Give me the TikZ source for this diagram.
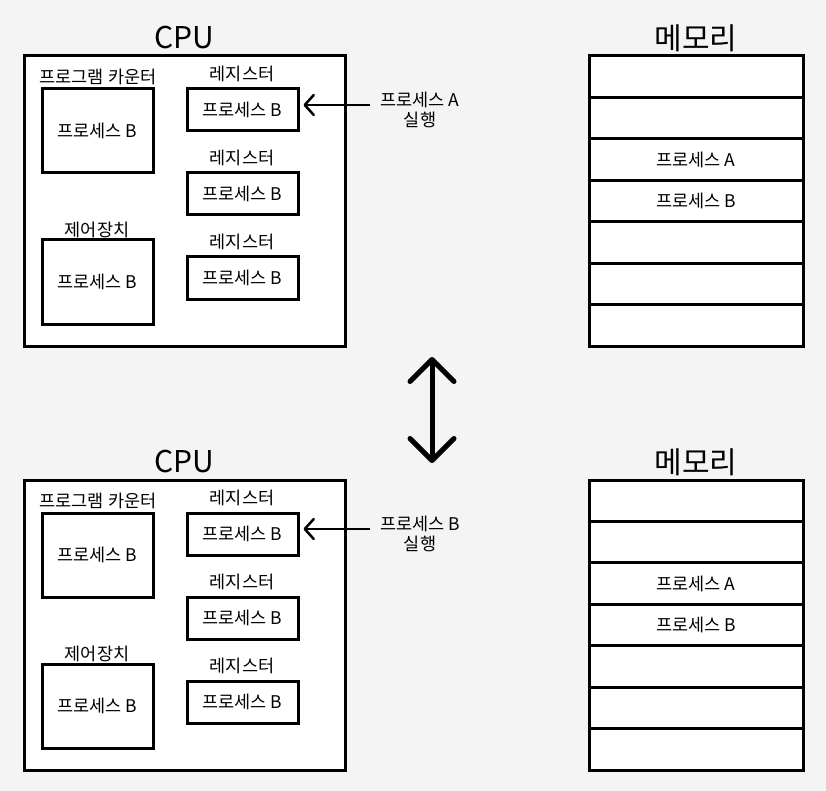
\documentclass[tikz,border=0pt]{standalone}
\usepackage{fontspec}
\setmainfont{Noto Sans CJK KR}
\usetikzlibrary{arrows.meta}
\begin{document}
\begin{tikzpicture}[x=1pt,y=-1pt,
  box/.style={draw=black,line width=3pt,fill=white,rectangle,inner sep=0pt},
  txt/.style={font=\fontsize{17.5}{20}\selectfont,inner sep=0pt},
  title/.style={font=\fontsize{30}{34}\selectfont,inner sep=0pt},
  ptr/.style={line width=2.5pt,-{Straight Barb[length=9pt,width=20pt,line cap=round,line join=round]}},
  swap/.style={line width=5pt,line cap=round,{Straight Barb[length=22pt,width=44pt,line cap=round,line join=round]}-{Straight Barb[length=22pt,width=44pt,line cap=round,line join=round]}}]
\fill[fill={rgb,255:red,244;green,244;blue,244}] (0,0) rectangle (826,791);
\useasboundingbox (0,0) rectangle (826,791);
\foreach \oy/\s/\p in {0/t/A,424/b/B}{
  % CPU
  \node[title] (cpu\s) at (184,38+\oy) {CPU};
  \node[box,minimum width=321pt,minimum height=290pt] (cpubox\s) at (184.5,201+\oy) {};
  \node[txt] (pcl\s) at (98,77+\oy) {프로그램 카운터};
  \node[box,minimum width=111pt,minimum height=84pt,txt] (pc\s) at (97.5,131+\oy) {프로세스 B};
  \node[txt] (cul\s) at (97,230+\oy) {제어장치};
  \node[box,minimum width=111pt,minimum height=84pt,txt] (cu\s) at (97.5,282+\oy) {프로세스 B};
  \node[txt] (r1l\s) at (242,74+\oy) {레지스터};
  \node[box,minimum width=111pt,minimum height=42pt,txt] (r1\s) at (242.5,110+\oy) {프로세스 B};
  \node[txt] (r2l\s) at (242,158+\oy) {레지스터};
  \node[box,minimum width=111pt,minimum height=42pt,txt] (r2\s) at (242.5,194+\oy) {프로세스 B};
  \node[txt] (r3l\s) at (242,242+\oy) {레지스터};
  \node[box,minimum width=111pt,minimum height=42pt,txt] (r3\s) at (242.5,278+\oy) {프로세스 B};
  % pointer
  \node[txt,align=center] (run\s) at (420,110+\oy) {프로세스 \p\\실행};
  \coordinate (rs\s) at (370,105+\oy);
  \draw[ptr,shorten >=4pt] (rs\s) -- (r1\s.east |- rs\s);
  % memory
  \node[title] (mem\s) at (696,38+\oy) {메모리};
  \node[box,minimum width=214pt,minimum height=290pt] (membox\s) at (696,201+\oy) {};
  \foreach \k in {1,...,6}{
    \draw[line width=3pt] (membox\s.west |- 0,56+\oy+41.43*\k) -- (membox\s.east |- 0,56+\oy+41.43*\k);
  }
  \node[txt] (ma\s) at (696,159.5+\oy) {프로세스 A};
  \node[txt] (mb\s) at (696,200.5+\oy) {프로세스 B};
}
\coordinate (sw1) at (432,357);
\coordinate (sw2) at (432,463);
\draw[swap] (sw1) -- (sw2);
\end{tikzpicture}
\end{document}
